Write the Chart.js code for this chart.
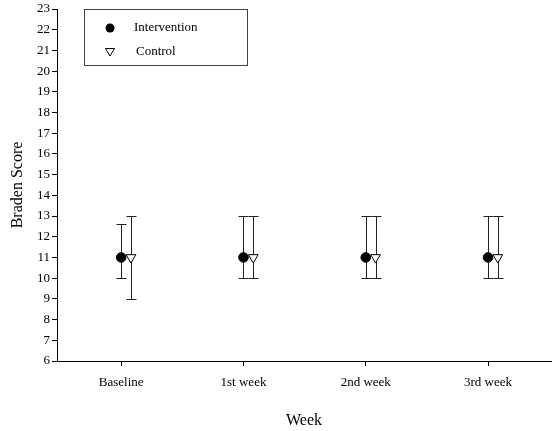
<!DOCTYPE html>
<html>
<head>
<meta charset="utf-8">
<script src="https://cdn.jsdelivr.net/npm/chart.js@4/dist/chart.umd.min.js"></script>
<style>
    html, body { margin: 0; padding: 0; background: #fff; }
    canvas { display: block; }
</style>
</head>
<body>
<canvas id="chart" width="552" height="431"></canvas>
<script>
// Chart data
const weeks = ['Baseline', '1st week', '2nd week', '3rd week'];
const interventionMean = [11, 11, 11, 11];
const interventionLow = [10, 10, 10, 10];
const interventionHigh = [12.6, 13, 13, 13];
const controlMean = [11, 11, 11, 11];
const controlLow = [9, 10, 10, 10];
const controlHigh = [13, 13, 13, 13];
const yTicks = [6, 7, 8, 9, 10, 11, 12, 13, 14, 15, 16, 17, 18, 19, 20, 21, 22, 23];

// Control markers sit a little to the right of each week
const CONTROL_SHIFT = 0.08;
const FONT = "'Liberation Serif', 'Times New Roman', serif";

function points(means, lows, highs, shift) {
    return means.map((m, i) => ({ x: i + 1 + shift, y: m, low: lows[i], high: highs[i] }));
}

// Keep the plot flush with the canvas edge (no label overflow padding)
function noPadding(scale) {
    scale.paddingLeft = 0;
    scale.paddingRight = 0;
    scale.paddingTop = 0;
    scale.paddingBottom = 0;
}

// Draw error bars under the markers
const errorBars = {
    id: 'errorBars',
    beforeDatasetsDraw(chart) {
        const ctx = chart.ctx;
        const xs = chart.scales.x;
        const ys = chart.scales.y;
        ctx.save();
        ctx.strokeStyle = '#222';
        ctx.lineWidth = 1;
        chart.data.datasets.forEach(ds => {
            ds.data.forEach(p => {
                const x = Math.round(xs.getPixelForValue(p.x)) + 0.5;
                const yLo = Math.round(ys.getPixelForValue(p.low)) + 0.5;
                const yHi = Math.round(ys.getPixelForValue(p.high)) + 0.5;
                ctx.beginPath();
                ctx.moveTo(x, yLo);
                ctx.lineTo(x, yHi);
                ctx.moveTo(x - 5, yLo);
                ctx.lineTo(x + 5, yLo);
                ctx.moveTo(x - 5, yHi);
                ctx.lineTo(x + 5, yHi);
                ctx.stroke();
            });
        });
        ctx.restore();
    }
};

// Legend box inside the plot, top left
const boxLegend = {
    id: 'boxLegend',
    afterDraw(chart) {
        const ctx = chart.ctx;
        ctx.save();
        ctx.strokeStyle = '#444';
        ctx.lineWidth = 1;
        ctx.strokeRect(84.5, 9.5, 163, 56);

        // circle
        ctx.fillStyle = '#000';
        ctx.beginPath();
        ctx.arc(110, 28, 4.5, 0, Math.PI * 2);
        ctx.fill();

        // down triangle
        ctx.fillStyle = '#fff';
        ctx.strokeStyle = '#000';
        ctx.beginPath();
        ctx.moveTo(105.5, 48.5);
        ctx.lineTo(114.5, 48.5);
        ctx.lineTo(110, 56);
        ctx.closePath();
        ctx.fill();
        ctx.stroke();

        ctx.fillStyle = '#000';
        ctx.font = '13px ' + FONT;
        ctx.textBaseline = 'middle';
        ctx.textAlign = 'left';
        ctx.fillText(chart.data.datasets[0].label, 134, 28);
        ctx.fillText(chart.data.datasets[1].label, 136, 52);
        ctx.restore();
    }
};

const ctx = document.getElementById('chart').getContext('2d');
new Chart(ctx, {
    type: 'scatter',
    data: {
        datasets: [
            {
                label: 'Intervention',
                data: points(interventionMean, interventionLow, interventionHigh, 0),
                pointStyle: 'circle',
                pointRadius: 4.8,
                backgroundColor: '#000',
                borderColor: '#000',
                borderWidth: 1
            },
            {
                label: 'Control',
                data: points(controlMean, controlLow, controlHigh, CONTROL_SHIFT),
                pointStyle: 'triangle',
                rotation: 180,
                pointRadius: 5.6,
                backgroundColor: '#fff',
                borderColor: '#000',
                borderWidth: 1
            }
        ]
    },
    plugins: [errorBars, boxLegend],
    options: {
        responsive: false,
        animation: false,
        layout: {
            autoPadding: false,
            padding: { top: 9, right: 1, left: 0, bottom: 0 }
        },
        plugins: {
            legend: { display: false },
            tooltip: { enabled: false }
        },
        scales: {
            x: {
                type: 'linear',
                min: 0.475,
                max: 4.515,
                afterFit(scale) {
                    scale.height = 70;
                    noPadding(scale);
                },
                afterBuildTicks(scale) {
                    scale.ticks = weeks.map((w, i) => ({ value: i + 1 }));
                },
                ticks: {
                    color: '#000',
                    font: { family: FONT, size: 13 },
                    padding: 9,
                    maxRotation: 0,
                    autoSkip: false,
                    callback: v => weeks[v - 1]
                },
                grid: { drawOnChartArea: false, drawTicks: true, tickLength: 5, color: '#000' },
                border: { display: true, color: '#000', width: 1 },
                title: {
                    display: true,
                    text: 'Week',
                    color: '#000',
                    font: { family: FONT, size: 16 },
                    padding: { top: 0, bottom: 1 }
                }
            },
            y: {
                min: 6,
                max: 23,
                afterFit(scale) {
                    scale.width = 57;
                    noPadding(scale);
                },
                afterBuildTicks(scale) {
                    scale.ticks = yTicks.map(v => ({ value: v }));
                },
                ticks: {
                    color: '#000',
                    font: { family: FONT, size: 13 },
                    padding: 2,
                    autoSkip: false
                },
                grid: { drawOnChartArea: false, drawTicks: true, tickLength: 5, color: '#000' },
                border: { display: true, color: '#000', width: 1 },
                title: {
                    display: true,
                    text: 'Braden Score',
                    color: '#000',
                    font: { family: FONT, size: 16 },
                    padding: { top: 8, bottom: 0 }
                }
            }
        }
    }
});
</script>
</body>
</html>
